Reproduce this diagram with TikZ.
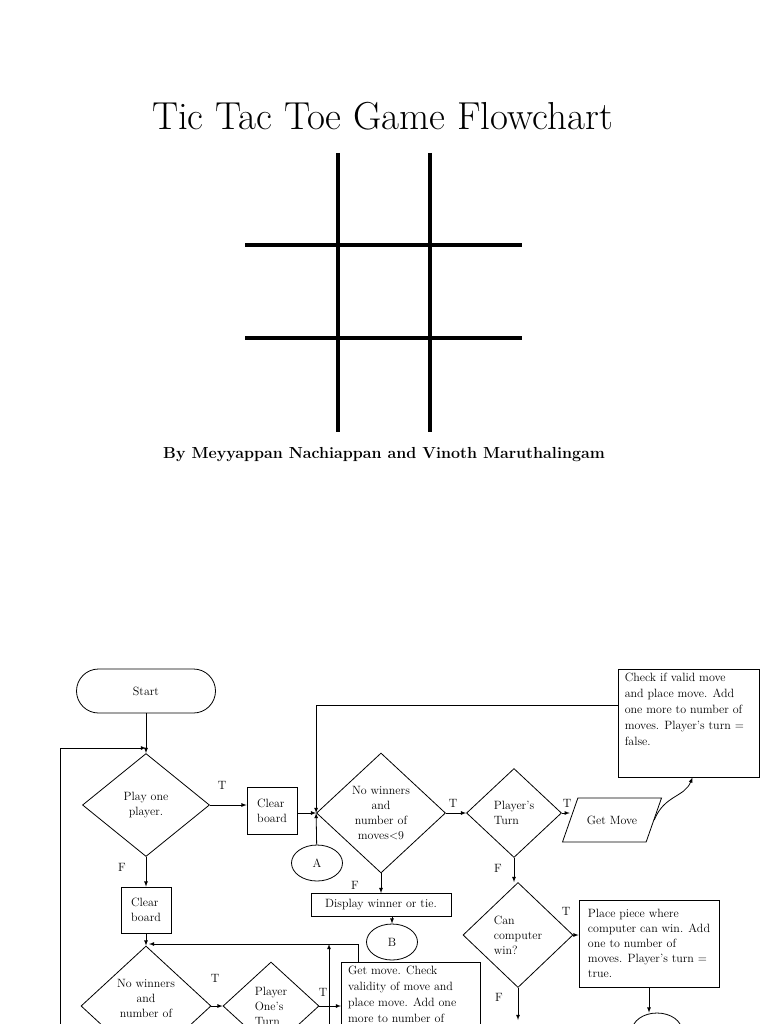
\documentclass[tikz,border=0pt]{standalone}
\usepackage{tikz}
\usetikzlibrary{shapes.geometric, arrows}

\tikzset{
	box/.style={draw, rectangle, line width=0.8pt, font=\fontsize{12}{15}\selectfont},
	txt/.style={align=left, inner xsep=7pt, inner ysep=4pt, font=\fontsize{12}{16}\selectfont},
	dec/.style={draw, diamond, aspect=1, inner sep=0pt, line width=0.8pt, font=\fontsize{12}{15}\selectfont},
	term/.style={draw, rectangle, rounded corners=22pt, minimum width=139, minimum height=44, line width=0.8pt, font=\fontsize{12}{15}\selectfont},
	io/.style={draw, trapezium, trapezium left angle=45, trapezium right angle=135, trapezium stretches body=true, minimum width=99, minimum height=44, line width=0.8pt, font=\fontsize{12}{15}\selectfont},
	conn/.style={draw, ellipse, minimum width=51, minimum height=36, line width=0.8pt, font=\fontsize{12}{15}\selectfont},
	lbl/.style={inner sep=0pt, font=\fontsize{12}{15}\selectfont},
	flow/.style={->, line width=0.8pt},
	grid/.style={line width=4pt}
}

\begin{document}
\begin{tikzpicture}[x=1pt, y=-1pt, >=latex]
	\useasboundingbox (0,0) rectangle (768,1024);
	\clip (0,0) rectangle (768,1024);

	% title page part
	\node[anchor=base] (title) at (382.5,130) {\fontsize{39}{44}\selectfont Tic Tac Toe Game Flowchart};
	\foreach \x in {338,430} \draw[grid] (\x,153) -- (\x,432);
	\foreach \y in {245,338} \draw[grid] (245,\y) -- (522,\y);
	\node[anchor=base] (by) at (384,458) {\fontsize{16}{19}\selectfont\bfseries By Meyyappan Nachiappan and Vinoth Maruthalingam};

	% top row
	\node[term] (start) at (146,691) {Start};
	\node[dec, minimum width=127, minimum height=103, align=center] (d1) at (146,805) {Play one\\player.};
	\node[box, minimum width=50, minimum height=47, align=left, inner sep=2pt] (cb1) at (272,811) {Clear\\board};
	\node[dec, minimum width=129, minimum height=120, align=center] (d2) at (381,813) {No winners\\and\\number of\\moves<9};
	\node[dec, minimum width=95, minimum height=89, align=left] (d3) at (514,813) {Player's\\Turn};
	\node[io] (gm) at (612,820) {Get Move};
	\node[box, minimum width=141, minimum height=108] (chk) at (688.5,723) {};
	\node[txt, anchor=north west] (chkt) at (chk.north west) {Check if valid move\\and place move. Add\\one more to number of\\moves. Player's turn =\\false.};
	\node[conn] (ca) at (317,863) {A};
	\node[box, minimum width=140, minimum height=23, inner sep=2pt] (disp) at (381,905) {Display winner or tie.};
	\node[conn] (cb) at (392,942) {B};
	\node[dec, minimum width=110, minimum height=105, align=left] (d4) at (518,935) {Can\\computer\\win?};
	\node[box, minimum width=140, minimum height=87, align=left, inner xsep=6pt] (pl) at (649,943.5) {Place piece where\\computer can win. Add\\one to number of\\moves. Player's turn =\\true.};
	\node[conn, minimum width=50] (cc) at (657,1031) {A};

	% one player column
	\node[box, minimum width=50, minimum height=46, align=left, inner sep=2pt] (cb2) at (146,910) {Clear\\board};
	\node[dec, minimum width=130, minimum height=120, align=center] (d5) at (146,1006) {No winners\\and\\number of\\moves<9};
	\node[dec, minimum width=96, minimum height=88, align=left] (d6) at (271,1006) {Player\\One's\\Turn};
	\node[box, minimum width=139, minimum height=110, anchor=north west] (gm2) at (341,962) {};
	\node[txt, anchor=north west] (gm2t) at (gm2.north west) {Get move. Check\\validity of move and\\place move. Add one\\more to number of};

	\coordinate (j1) at (146,748);
	\coordinate (lb) at (60,1030);
	\coordinate (lp) at (315,705);
	\coordinate (j2) at (149,944);
	\coordinate (r1) at (358,944);
	\coordinate (lb2) at (329,1030);
	\coordinate (d4o) at (518,1020);

	% connectors
	\draw[flow] (start) -- (d1);
	\draw[flow] (lb) |- (j1);
	\draw[flow] (d1.east) -- (d1.east -| cb1.west);
	\draw[flow] (cb1.east |- d2.west) -- (d2.west);
	\draw[flow] (ca) -- (d2.west);
	\draw[flow] (chk.west |- lp) -| (d2.west);
	\draw[flow] (d2) -- (d3);
	\draw[flow] (d3.east) -- (d3.east -| gm.west);
	\draw[flow] (gm.east) .. controls +(10,-25) and +(-8,20) .. ([xshift=4pt]chk.south);
	\draw[flow] (d2) -- (disp);
	\draw[flow] (disp.south -| cb) -- (cb);
	\draw[flow] (d3.south) -- (d3.south |- d4.north);
	\draw[flow] (d4.east) -- (d4.east -| pl.west);
	\draw[flow] (pl.south) -- (pl.south |- cc.north);
	\draw[flow] (d4.south) -- (d4o);
	\draw[flow] (d1) -- (cb2);
	\draw[flow] (cb2) -- (d5);
	\draw[flow] (gm2.north -| r1) -- (r1) -- (j2);
	\draw[flow] (lb2) -- (lb2 |- r1);
	\draw[flow] (d5) -- (d6);
	\draw[flow] (d6.east) -- (d6.east -| gm2.west);

	% T / F labels
	\node[lbl] (t1) at (222,785) {T};
	\node[lbl] (f1) at (122,867) {F};
	\node[lbl] (t2) at (453,803) {T};
	\node[lbl] (t3) at (567,803) {T};
	\node[lbl] (f2) at (355,885) {F};
	\node[lbl] (f3) at (498,868) {F};
	\node[lbl] (t4) at (566,911) {T};
	\node[lbl] (f4) at (499,997) {F};
	\node[lbl] (t5) at (215,978) {T};
	\node[lbl] (t6) at (323,992) {T};
\end{tikzpicture}
\end{document}
